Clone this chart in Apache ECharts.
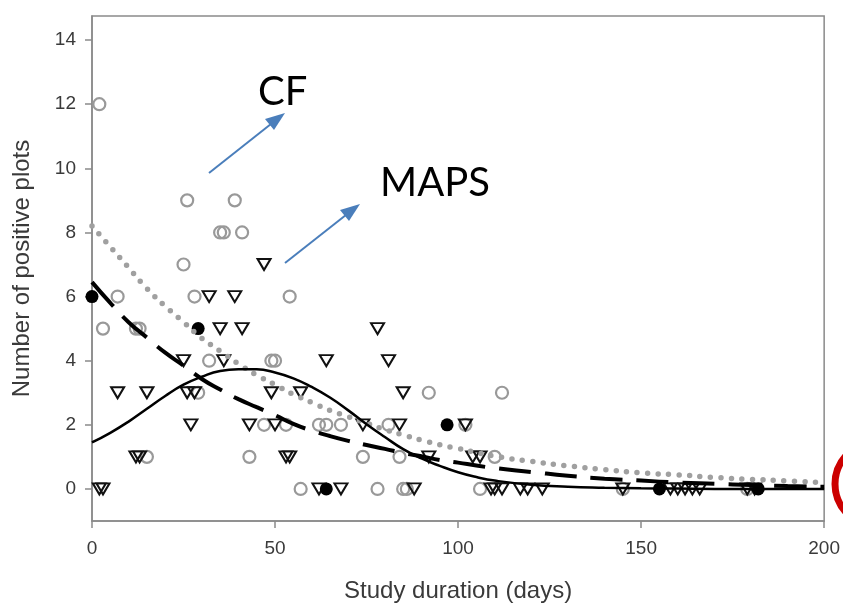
<!DOCTYPE html>
<html>
<head>
<meta charset="utf-8">
<title>Positive plots vs study duration</title>
<script src="https://cdn.jsdelivr.net/npm/echarts@6/dist/echarts.min.js"></script>
<style>
  html, body { margin: 0; padding: 0; background: #fff; }
  #chart { width: 843px; height: 608px; }
</style>
</head>
<body>
<div id="chart"></div>
<script>
// open grey circles
var circlePts = [
  [2,12],[26,9],[39,9],[35,8],[36,8],[41,8],[25,7],[7,6],[28,6],[54,6],
  [3,5],[12,5],[13,5],[32,4],[49,4],[50,4],[29,3],[92,3],[112,3],
  [47,2],[53,2],[62,2],[64,2],[68,2],[81,2],[102,2],
  [15,1],[43,1],[74,1],[84,1],[110,1],
  [57,0],[78,0],[85,0],[86,0],[106,0],[145,0],[179,0]
];
// open inverted triangles
var trianglePts = [
  [47,7],[32,6],[39,6],[35,5],[41,5],[78,5],
  [25,4],[36,4],[64,4],[81,4],
  [7,3],[15,3],[26,3],[28,3],[49,3],[57,3],[85,3],
  [27,2],[43,2],[50,2],[74,2],[84,2],[102,2],
  [12,1],[13,1],[53,1],[54,1],[92,1],[104,1],[106,1],
  [2,0],[3,0],[62,0],[68,0],[88,0],[109,0],[110,0],[112,0],[117,0],[119,0],[123,0],
  [145,0],[158,0],[160,0],[162,0],[164,0],[166,0],[179,0],[181,0]
];
// filled black circles
var filledPts = [[0,6],[29,5],[64,0],[97,2],[155,0],[182,0]];

// fitted curves
var curveX   = [0,5,10,15,20,25,30,35,40,45,50,55,60,65,70,75,80,85,90,95,100,105,110,120,130,140,150,160,170,180,190,200];
var dotted   = [8.2,7.55,6.9,6.25,5.7,5.2,4.7,4.3,3.9,3.55,3.25,2.95,2.7,2.45,2.25,2.05,1.85,1.68,1.52,1.38,1.26,1.14,1.02,0.86,0.72,0.6,0.5,0.44,0.36,0.3,0.25,0.19];
var dashed   = [6.45,5.8,5.2,4.72,4.25,3.85,3.43,3.1,2.8,2.55,2.3,2.03,1.82,1.65,1.5,1.37,1.25,1.12,1.02,0.9,0.82,0.73,0.65,0.53,0.41,0.32,0.26,0.2,0.16,0.12,0.09,0.07];
var solid    = [1.45,1.75,2.1,2.5,2.9,3.25,3.5,3.68,3.73,3.73,3.63,3.45,3.18,2.85,2.45,2.02,1.62,1.24,0.95,0.72,0.52,0.37,0.26,0.13,0.07,0.04,0.02,0.01,0,0,0,0];

var yTicks = [0,2,4,6,8,10,12,14];

function pairs(ys) {
  return curveX.map(function (x, i) { return [x, ys[i]]; });
}

var chart = echarts.init(document.getElementById('chart'));
var axisGrey = '#8a8a8a';
var labelStyle = { color: '#3a3a3a', fontSize: 19, fontFamily: 'Liberation Sans, Arial, sans-serif' };
var nameStyle = { color: '#3a3a3a', fontSize: 24, fontFamily: 'Liberation Sans, Arial, sans-serif' };

chart.setOption({
  animation: false,
  backgroundColor: '#fff',
  grid: {
    left: 92, right: 18, top: 16, bottom: 87,
    show: true, borderColor: axisGrey, borderWidth: 1.5
  },
  xAxis: {
    type: 'value', min: 0, max: 200, interval: 50,
    name: 'Study duration (days)', nameLocation: 'middle', nameGap: 58,
    nameTextStyle: nameStyle,
    axisLine: { onZero: false, lineStyle: { color: axisGrey, width: 1.5 } },
    axisTick: { show: true, length: 7, lineStyle: { color: axisGrey, width: 1.5 } },
    axisLabel: Object.assign({ margin: 18 }, labelStyle),
    splitLine: { show: false }
  },
  yAxis: {
    type: 'value', min: -1, max: 14.75,
    name: 'Number of positive plots', nameLocation: 'middle', nameGap: 58, nameRotate: 90,
    nameTextStyle: nameStyle,
    axisLine: { show: true, onZero: false, lineStyle: { color: axisGrey, width: 1.5 } },
    axisTick: { show: true, length: 7, customValues: yTicks, lineStyle: { color: axisGrey, width: 1.5 } },
    axisLabel: Object.assign({ margin: 16, customValues: yTicks }, labelStyle),
    splitLine: { show: false }
  },
  series: [
    {
      type: 'scatter', data: circlePts, symbol: 'circle', symbolSize: 12, silent: true,
      itemStyle: { color: 'rgba(255,255,255,0)', borderColor: '#999', borderWidth: 2.2, opacity: 1 }
    },
    {
      type: 'scatter', data: trianglePts, symbol: 'triangle', symbolSize: [13, 11], symbolRotate: 180, silent: true,
      itemStyle: { color: 'rgba(255,255,255,0)', borderColor: '#111', borderWidth: 2, opacity: 1 }
    },
    {
      type: 'scatter', data: filledPts, symbol: 'circle', symbolSize: 13, silent: true,
      itemStyle: { color: '#000', opacity: 1 }
    },
    {
      type: 'line', data: pairs(dotted), smooth: true, showSymbol: false, silent: true,
      lineStyle: { color: '#a0a0a0', width: 5.5, type: [0, 10.5], cap: 'round' }
    },
    {
      type: 'line', data: pairs(dashed), smooth: true, showSymbol: false, silent: true,
      lineStyle: { color: '#000', width: 4, type: [32, 14] }
    },
    {
      type: 'line', data: pairs(solid), smooth: true, showSymbol: false, silent: true,
      lineStyle: { color: '#000', width: 2.5 }
    }
  ],
  graphic: [
    { type: 'text', left: 258, top: 72, style: { text: 'CF', fill: '#000', font: '40px Lato, "Open Sans", sans-serif' } },
    { type: 'text', left: 380, top: 163, style: { text: 'MAPS', fill: '#000', font: '40px Lato, "Open Sans", sans-serif' } },
    { type: 'line', shape: { x1: 209, y1: 173, x2: 276, y2: 120 }, style: { stroke: '#4a7ebb', lineWidth: 2 } },
    { type: 'polygon', shape: { points: [[285, 113], [265, 119], [274, 130]] }, style: { fill: '#4a7ebb' } },
    { type: 'line', shape: { x1: 285, y1: 263, x2: 351, y2: 211 }, style: { stroke: '#4a7ebb', lineWidth: 2 } },
    { type: 'polygon', shape: { points: [[360, 204], [340, 210], [349, 221]] }, style: { fill: '#4a7ebb' } },
    { type: 'ellipse', shape: { cx: 882, cy: 484, rx: 47, ry: 44 }, style: { fill: 'none', stroke: '#cc0000', lineWidth: 7 } }
  ]
});
</script>
</body>
</html>
